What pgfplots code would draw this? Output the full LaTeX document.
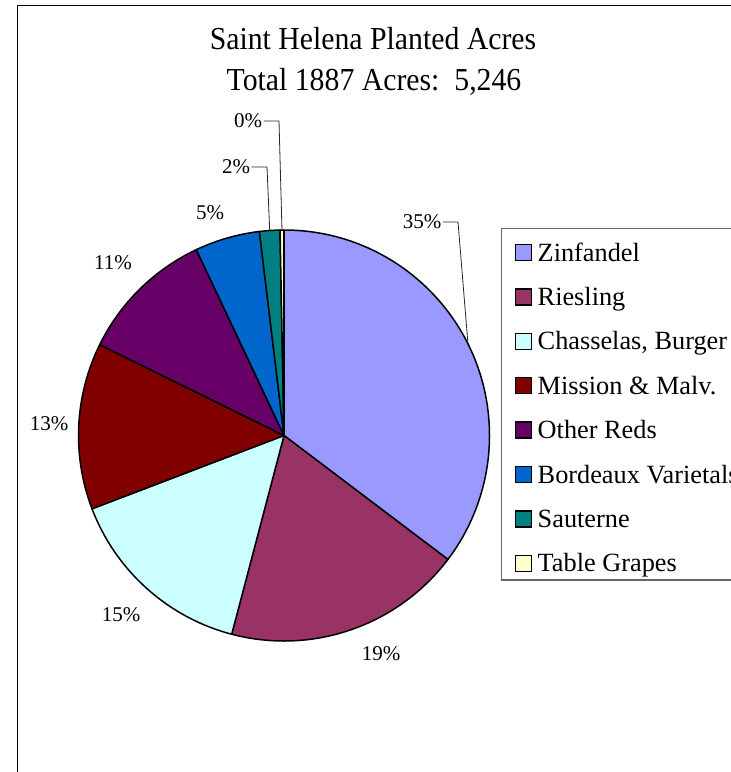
\documentclass[border=0pt]{standalone}
\usepackage{pgfplots}
\usepackage{pgfplotstable}
\pgfplotsset{compat=1.18}
\usepackage{fontspec}
\setmainfont{Liberation Serif}
\newfontfamily\titlefont{Liberation Serif}[FakeStretch=0.93]

\definecolor{c0}{HTML}{9999FF}
\definecolor{c1}{HTML}{993366}
\definecolor{c2}{HTML}{CCFFFF}
\definecolor{c3}{HTML}{800000}
\definecolor{c4}{HTML}{660066}
\definecolor{c5}{HTML}{0066CC}
\definecolor{c6}{HTML}{008080}
\definecolor{c7}{HTML}{FFFFCC}

% acres per variety; lx,ly = label centre (px), kx = leader corner x (0 = no leader)
\pgfplotstableread[col sep=semicolon]{
name;acres;lx;ly;kx
Zinfandel;1852;422;222;458
Riesling;986;381;654;0
Chasselas, Burger;792;121;615;0
Mission \& Malv.;687;49;424;0
Other Reds;561;113;263;0
Bordeaux Varietals;268;210;213;0
Sauterne;84;236;167;267
Table Grapes;16;248;121;279
}\datatable

\def\total{0}
\pgfplotsforeachungrouped \i in {0,...,7}{%
  \pgfplotstablegetelem{\i}{acres}\of{\datatable}%
  \pgfmathsetmacro{\total}{\total+\pgfplotsretval}%
}
\def\cur{90}
\pgfplotsforeachungrouped \i in {0,...,7}{%
  \pgfplotstablegetelem{\i}{acres}\of{\datatable}%
  \let\val\pgfplotsretval
  \pgfmathsetmacro{\frc}{\val/\total}%
  \pgfmathsetmacro{\spn}{360*\frc}%
  \expandafter\xdef\csname sa\i\endcsname{\cur}%
  \pgfmathsetmacro{\nxt}{\cur-\spn}%
  \expandafter\xdef\csname ea\i\endcsname{\nxt}%
  \pgfmathsetmacro{\md}{\cur-\spn/2}%
  \expandafter\xdef\csname ma\i\endcsname{\md}%
  \pgfmathtruncatemacro{\pc}{round(100*\frc)}%
  \expandafter\xdef\csname pc\i\endcsname{\pc}%
  \pgfplotstablegetelem{\i}{name}\of{\datatable}%
  \global\expandafter\let\csname nm\i\endcsname\pgfplotsretval
  \pgfplotstablegetelem{\i}{lx}\of{\datatable}%
  \expandafter\xdef\csname lx\i\endcsname{\pgfplotsretval}%
  \pgfplotstablegetelem{\i}{ly}\of{\datatable}%
  \expandafter\xdef\csname ly\i\endcsname{\pgfplotsretval}%
  \pgfplotstablegetelem{\i}{kx}\of{\datatable}%
  \expandafter\xdef\csname kx\i\endcsname{\pgfplotsretval}%
  \pgfmathsetmacro{\yy}{252.5+44.4*\i}%
  \expandafter\xdef\csname gy\i\endcsname{\yy}%
  \let\cur\nxt
}

\def\cx{284}
\def\cy{435.5}
\def\rr{205.5bp}

\begin{document}
\begin{tikzpicture}
\begin{axis}[
  width=731bp, height=772bp, scale only axis,
  xmin=0, xmax=731, ymin=0, ymax=772, y dir=reverse,
  hide axis, clip=true, clip mode=global,
]
\coordinate (BL) at (axis cs:0,772);
\coordinate (TR) at (axis cs:731,0);
% frame
\draw[line width=1.4bp, black] (axis cs:17.3,780) -- (axis cs:17.3,5.3) -- (axis cs:740,5.3);
% title
\node[font=\titlefont\fontsize{32bp}{36bp}\selectfont, anchor=base] at (axis cs:373,50) {Saint Helena Planted Acres};
\node[font=\titlefont\fontsize{32bp}{36bp}\selectfont, anchor=base] at (axis cs:374,91) {Total 1887 Acres:\ \ 5,246};
% slices
\pgfplotsinvokeforeach{0,...,7}{
  \filldraw[fill=c#1, draw=black, line width=1.5bp, line join=round]
    (axis cs:\cx,\cy) -- ++(\csname sa#1\endcsname:\rr)
    arc[start angle=\csname sa#1\endcsname, end angle=\csname ea#1\endcsname, radius=\rr] -- cycle;
}
% labels
\pgfplotsinvokeforeach{0,...,7}{
  \node[font=\fontsize{21bp}{24bp}\selectfont, inner sep=1.5bp] (L#1) at (axis cs:\csname lx#1\endcsname,\csname ly#1\endcsname) {\csname pc#1\endcsname\%};
  \ifnum\csname kx#1\endcsname>0
    \path (axis cs:\cx,\cy) ++(\csname ma#1\endcsname:\rr) coordinate (E#1);
    \draw[line width=0.8bp, black!85] (L#1.east) -- (axis cs:\csname kx#1\endcsname,\csname ly#1\endcsname) -- (E#1);
  \fi
}
% legend
\draw[line width=1.2bp, black!60] (axis cs:740,228.3) -- (axis cs:501.7,228.3) -- (axis cs:501.7,580) -- (axis cs:740,580);
\pgfplotsinvokeforeach{0,...,7}{
  \filldraw[fill=c#1, draw=black, line width=1.3bp]
    (axis cs:515.5,\csname gy#1\endcsname-8) rectangle (axis cs:531.5,\csname gy#1\endcsname+8);
  \node[font=\fontsize{26.3bp}{28bp}\selectfont, anchor=base west, inner sep=0pt]
    at (axis cs:537.5,\csname gy#1\endcsname+8.6) {\csname nm#1\endcsname};
}
\end{axis}
\pgfresetboundingbox
\useasboundingbox (BL) rectangle (TR);
\end{tikzpicture}
\end{document}
